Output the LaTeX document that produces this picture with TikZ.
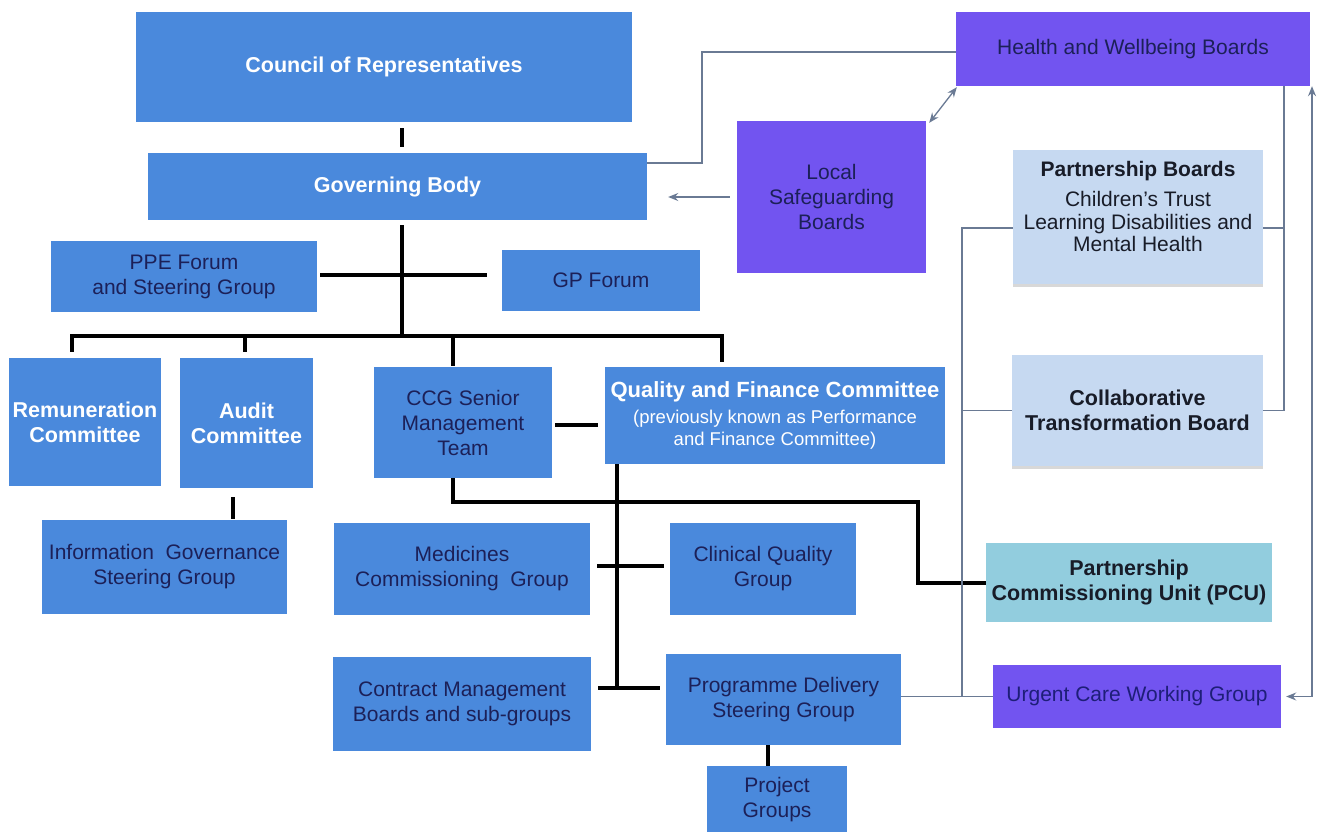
\documentclass[tikz,border=0pt]{standalone}
\usepackage{fontspec}
\setmainfont{Liberation Sans}
\usetikzlibrary{arrows.meta,shadows}
\definecolor{boxblue}{RGB}{74,137,220}
\definecolor{purp}{RGB}{114,84,240}
\definecolor{lightb}{RGB}{198,217,241}
\definecolor{pcucol}{RGB}{146,205,222}
\definecolor{navy}{RGB}{28,32,88}
\definecolor{darktxt}{RGB}{24,28,40}
\definecolor{linec}{RGB}{106,122,148}
\tikzset{gtip/.tip={Stealth[length=10pt,width=8pt]}}
\begin{document}
\begin{tikzpicture}[x=1pt,y=-1pt,
  base/.style={inner sep=0pt, align=center, font=\fontsize{21}{25}\selectfont},
  sz/.style 2 args={minimum width=#1pt, minimum height=#2pt},
  bbox/.style={base, fill=boxblue, text=navy},
  wbox/.style={base, fill=boxblue, text=white, font=\fontsize{21.5}{25}\selectfont\bfseries},
  pbox/.style={base, fill=purp, text=navy},
  lbox/.style={base, fill=lightb, text=darktxt, drop shadow={opacity=0.3, shadow xshift=0pt, shadow yshift=-3pt}},
  tk/.style={line width=4pt, black},
  tn/.style={line width=1.3pt, linec}
]
\fill[white] (0,0) rectangle (1322,832);
\useasboundingbox (0,0) rectangle (1322,832);

% main blue boxes
\node[wbox, sz={496}{110}] (council) at (384,67) {Council of Representatives};
\node[wbox, sz={499}{67}] (gb) at (397.5,186.5) {Governing Body};
\node[bbox, sz={266}{71}] (ppe) at (184,276.5) {PPE Forum\\and Steering Group};
\node[bbox, sz={198}{61}] (gp) at (601,280.5) {GP Forum};
\node[wbox, sz={152}{128}] (rem) at (85,422) {Remuneration\\Committee};
\node[wbox, sz={133}{130}] (audit) at (246.5,423) {Audit\\Committee};
\node[bbox, sz={178}{111}] (ccg) at (463,422.5) {CCG Senior\\Management\\Team};
\node[base, fill=boxblue, text=white, sz={340}{97}] (qf) at (775,415.5)
  {{\fontsize{22}{25}\selectfont\bfseries Quality and Finance Committee}\\[1pt]
   {\fontsize{18.5}{21}\selectfont (previously known as Performance}\\[-3pt]
   {\fontsize{18.5}{21}\selectfont and Finance Committee)}};
\node[bbox, sz={245}{94}] (ig) at (164.5,567) {Information\ \ Governance\\Steering Group};
\node[bbox, sz={256}{92}] (med) at (462,569) {Medicines\\Commissioning\ \ Group};
\node[bbox, sz={186}{92}] (cq) at (763,569) {Clinical Quality\\Group};
\node[bbox, sz={258}{94}] (cm) at (462,704) {Contract Management\\Boards and sub-groups};
\node[bbox, sz={235}{91}] (pdsg) at (783.5,699.5) {Programme Delivery\\Steering Group};
\node[bbox, sz={140}{68}] (pg) at (777,800) {Project\\Groups};

% right side boxes
\node[pbox, sz={354}{74}] (hwb) at (1133,49) {Health and Wellbeing Boards};
\node[pbox, sz={189}{152}] (lsb) at (831.5,197) {Local\\Safeguarding\\Boards};
\node[lbox, sz={250}{134}] (pb) at (1138,217) {};
\node[base, text=darktxt] (pbt) at (1138,206) {{\bfseries Partnership Boards}\\[5pt]Children's Trust\\[-2pt]Learning Disabilities and\\[-3pt]Mental Health};
\node[lbox, sz={251}{111}, font=\fontsize{21.5}{25}\selectfont\bfseries] (ctb) at (1137.5,410.5) {Collaborative\\Transformation Board};
\node[base, fill=pcucol, text=darktxt, sz={286}{79}, font=\fontsize{21.5}{25}\selectfont\bfseries] (pcu) at (1129,582.5) {Partnership\\Commissioning Unit (PCU)};
\node[pbox, sz={288}{63}, text={rgb,255:red,30;green,30;blue,120}] (uc) at (1137,696.5) {Urgent Care Working Group};

% helper coordinates
\coordinate (bus) at (402,336);
\coordinate (b1) at (72,336);
\coordinate (b2) at (245,336);
\coordinate (b3) at (453,336);
\coordinate (b4) at (722,336);
\coordinate (ax) at (233,0);
\coordinate (c1) at (918,502);
\coordinate (q) at (617,688);
\coordinate (px) at (768,0);
\coordinate (t1) at (702,0);
\coordinate (r1) at (1284,0);
\coordinate (r2) at (1312,0);
\coordinate (l1) at (962,0);

% thick connectors
\draw[tk] ([yshift=-6pt]council.south -| bus) -- ([yshift=6pt]gb.north -| bus);
\draw[tk] ([yshift=-5pt]gb.south -| bus) -- (bus);
\draw[tk] ([xshift=3pt]ppe.east |- 0,275) -- ([xshift=-15pt]gp.west |- 0,275);
\draw[tk] ([yshift=6pt]rem.north -| b1) -- (b1) -- (b4) -- ([yshift=5pt]qf.north -| b4);
\draw[tk] ([yshift=6pt]audit.north -| b2) -- (b2);
\draw[tk] ([yshift=1pt]ccg.north -| b3) -- (b3);
\draw[tk] ([xshift=3pt]ccg.east |- 0,425) -- ([xshift=-7pt]qf.west |- 0,425);
\draw[tk] ([yshift=-9pt]audit.south -| ax) -- ([yshift=1pt]ig.north -| ax);
\draw[tk] (ccg.south -| b3) |- (c1) |- (pcu.west);
\draw[tk] (qf.south -| q) -- (q);
\draw[tk] ([xshift=7pt]med.east |- 0,566) -- ([xshift=-6pt]cq.west |- 0,566);
\draw[tk] ([xshift=7pt]cm.east |- q) -- ([xshift=-6pt]pdsg.west |- q);
\draw[tk] (pdsg.south -| px) -- (pg.north -| px);

% thin connectors
\draw[tn] ([yshift=23.5pt]gb.east) -| ([yshift=-3pt]t1 |- hwb.west) -- ([yshift=-3pt]hwb.west);
\draw[tn,-{gtip}] ([xshift=-7pt]lsb.west) -- ([xshift=21pt]gb.east |- lsb.west);
\draw[tn,{gtip}-{gtip}] ([shift={(3pt,-2pt)}]lsb.north east) -- ([shift={(1pt,-1pt)}]hwb.south west);
\draw[tn] (hwb.south -| r1) |- (ctb.east);
\draw[tn] ([yshift=-11pt]pb.east) -- ([yshift=-11pt]pb.east -| r1);
\draw[tn,{gtip}-{gtip}] ([xshift=5pt]uc.east) -| (hwb.south -| r2);
\draw[tn] (pdsg.east |- uc.west) -- (uc.west);
\draw[tn] (l1 |- uc.west) |- ([yshift=-11pt]pb.west);
\draw[tn] (l1 |- ctb.west) -- (ctb.west);
\end{tikzpicture}
\end{document}
